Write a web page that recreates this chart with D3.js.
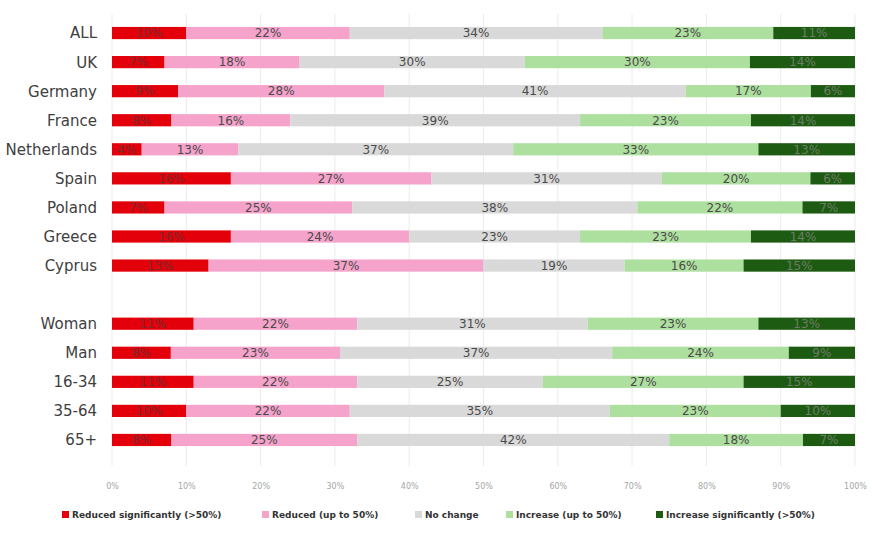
<!DOCTYPE html>
<html>
<head>
<meta charset="utf-8">
<script src="https://cdn.jsdelivr.net/npm/d3@7"></script>
<style>
  html, body { margin: 0; padding: 0; background: #fff; }
  svg { display: block; font-family: "DejaVu Sans", "Open Sans", sans-serif; }
</style>
</head>
<body>
<svg id="chart" width="872" height="534"></svg>
<script>
// Row labels; the empty entry leaves a gap between countries and demographics
const categories = ["ALL", "UK", "Germany", "France", "Netherlands", "Spain", "Poland", "Greece", "Cyprus", "",
                    "Woman", "Man", "16-34", "35-64", "65+"];

const seriesNames = ["Reduced significantly (>50%)", "Reduced (up to 50%)", "No change",
                     "Increase (up to 50%)", "Increase significantly (>50%)"];

// Shares (%) per row, in category order
const reducedSignificantly  = [10, 7, 9, 8, 4, 16, 7, 16, 13, null, 11, 8, 11, 10, 8];
const reducedUpTo50         = [22, 18, 28, 16, 13, 27, 25, 24, 37, null, 22, 23, 22, 22, 25];
const noChange              = [34, 30, 41, 39, 37, 31, 38, 23, 19, null, 31, 37, 25, 35, 42];
const increaseUpTo50        = [23, 30, 17, 23, 33, 20, 22, 23, 16, null, 23, 24, 27, 23, 18];
const increaseSignificantly = [11, 14, 6, 14, 13, 6, 7, 14, 15, null, 13, 9, 15, 10, 7];

const xTicks = [0, 10, 20, 30, 40, 50, 60, 70, 80, 90, 100];

const colors = ["#e3000b", "#f5a3cb", "#d9d9d9", "#addf9f", "#1e5b12"];

const seriesValues = [reducedSignificantly, reducedUpTo50, noChange, increaseUpTo50, increaseSignificantly];

// Table for d3.stack: one record per non-empty row
const table = categories.map((c, i) => {
  const rec = { idx: i, name: c };
  seriesNames.forEach((s, k) => rec[s] = seriesValues[k][i]);
  return rec;
}).filter(r => r.name !== "");

// 100% stacked: each row is expanded to fill the full width
const stacked = d3.stack().keys(seriesNames).offset(d3.stackOffsetExpand)(table);

const svg = d3.select("#chart");
const W = 872;

const x = d3.scaleLinear().domain([0, 1]).range([112, W - 17]);
const xPct = d3.scaleLinear().domain([0, 100]).range(x.range());
const y = d3.scaleBand().domain(categories.map((c, i) => i)).range([18.5, 454.5]).paddingInner(0.58).paddingOuter(0.29);

// Vertical gridlines
svg.append("g").selectAll("line").data(xTicks).join("line")
  .attr("x1", d => xPct(d)).attr("x2", d => xPct(d))
  .attr("y1", 14).attr("y2", 466)
  .attr("stroke", "#ececec").attr("stroke-width", 1);

// Stacked segments, one group per series
const layer = svg.append("g").selectAll("g").data(stacked).join("g")
  .attr("fill", (d, k) => colors[k]);

layer.selectAll("rect").data(d => d).join("rect")
  .attr("x", d => x(d[0]))
  .attr("width", d => x(d[1]) - x(d[0]))
  .attr("y", d => y(d.data.idx))
  .attr("height", y.bandwidth());

// Value labels, centred in each segment
const labelFill = ["#7a2a2a", "#4a4a4a", "#4a4a4a", "#4a4a4a", "#6b7d66"];
svg.append("g").selectAll("g").data(stacked).join("g")
  .each(function (s, k) {
    d3.select(this).selectAll("text").data(s).join("text")
      .attr("x", d => (x(d[0]) + x(d[1])) / 2)
      .attr("y", d => y(d.data.idx) + y.bandwidth() / 2)
      .attr("dy", "0.36em")
      .attr("text-anchor", "middle")
      .attr("font-size", 12)
      .attr("fill", labelFill[k])
      .text(d => d.data[s.key] + "%");
  });

// Category labels
svg.append("g").selectAll("text").data(table).join("text")
  .attr("x", 97).attr("y", d => y(d.idx) + y.bandwidth() / 2).attr("dy", "0.36em")
  .attr("text-anchor", "end")
  .attr("font-size", 15)
  .attr("fill", "#404040")
  .text(d => d.name);

// X axis
const xAxis = d3.axisBottom(xPct).tickValues(xTicks).tickFormat(d => d + "%").tickSize(0).tickPadding(0);
const ax = svg.append("g").attr("transform", "translate(0,483)").call(xAxis);
ax.select(".domain").remove();
ax.selectAll("text").attr("font-size", 8).attr("fill", "#a6a6a6").attr("font-family", "DejaVu Sans, sans-serif");

// Legend
const legendX = [62, 262, 415, 506, 656];
const lg = svg.append("g").selectAll("g").data(seriesNames).join("g")
  .attr("transform", (d, i) => `translate(${legendX[i]},515)`);
lg.append("rect").attr("x", 0).attr("y", -4).attr("width", 7).attr("height", 7)
  .attr("fill", (d, i) => colors[i]);
lg.append("text").attr("x", 10).attr("y", 0).attr("dy", "0.35em")
  .attr("font-size", 9).attr("font-weight", "bold").attr("fill", "#333")
  .text(d => d);
</script>
</body>
</html>
